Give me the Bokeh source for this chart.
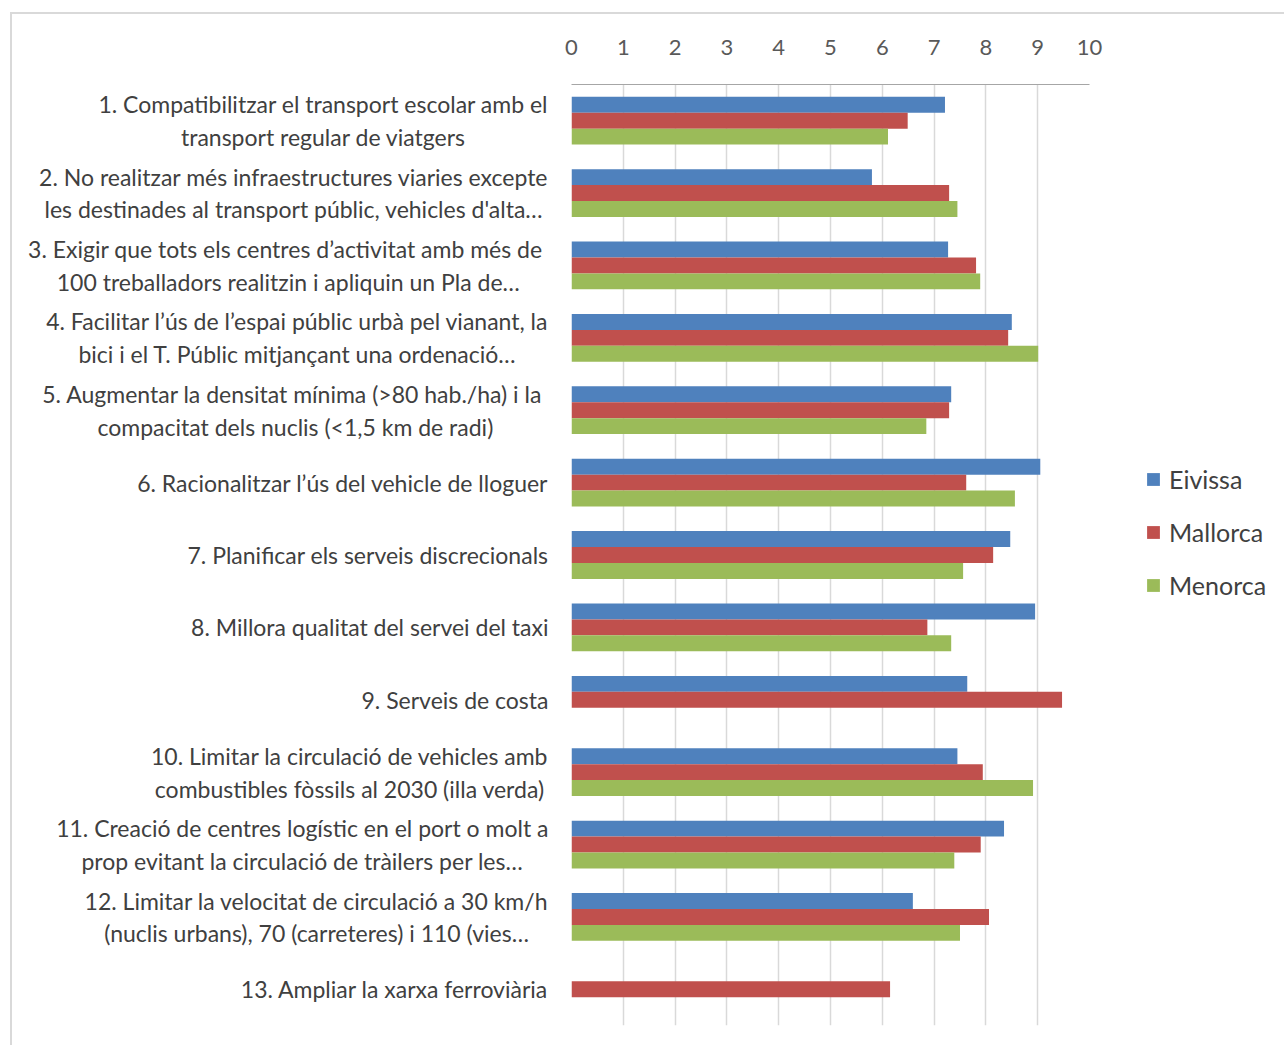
from bokeh.plotting import figure
from bokeh.layouts import row
from bokeh.models import FactorRange, Range1d, ColumnDataSource, Legend, LegendItem, FixedTicker
from bokeh.core.properties import value
from bokeh.transform import dodge
from bokeh.embed import file_html
from bokeh.resources import INLINE

NAN = float("nan")

categories = [
    "1. Compatibilitzar el transport escolar amb el\ntransport regular de viatgers",
    "2. No realitzar més infraestructures viaries excepte\nles destinades al transport públic, vehicles d'alta…",
    "3. Exigir que tots els  centres d’activitat amb més de\n100 treballadors realitzin i apliquin un Pla de…",
    "4. Facilitar l’ús de l’espai públic urbà pel vianant, la\nbici i el T. Públic mitjançant una ordenació…",
    "5. Augmentar la densitat mínima (>80  hab./ha) i la\ncompacitat dels nuclis (<1,5 km de radi)",
    "6. Racionalitzar l’ús del vehicle de lloguer",
    "7. Planificar els serveis discrecionals",
    "8. Millora qualitat del servei del taxi",
    "9. Serveis de costa",
    "10. Limitar la circulació de vehicles amb\ncombustibles fòssils al 2030 (illa verda)",
    "11. Creació de centres logístic en el port o molt a\nprop evitant la circulació de tràilers per les…",
    "12. Limitar la velocitat de circulació a 30 km/h\n(nuclis urbans), 70 (carreteres) i 110 (vies…",
    "13. Ampliar la xarxa ferroviària",
]

eivissa = [7.21, 5.80, 7.27, 8.50, 7.33, 9.05, 8.47, 8.95, 7.64, 7.45, 8.35, 6.59, NAN]
mallorca = [6.49, 7.29, 7.81, 8.43, 7.29, 7.62, 8.14, 6.87, 9.47, 7.94, 7.90, 8.06, 6.15]
menorca = [6.11, 7.45, 7.89, 9.01, 6.85, 8.56, 7.56, 7.33, NAN, 8.91, 7.39, 7.50, NAN]

series_names = ["Eivissa", "Mallorca", "Menorca"]
colors = ["#4f81bd", "#c0504d", "#9bbb59"]
x_ticks = list(range(0, 11))

FONT = "Lato"

source = ColumnDataSource(dict(cat=categories, Eivissa=eivissa, Mallorca=mallorca, Menorca=menorca))
y_range = FactorRange(*reversed(categories))

# ---- category label panel (left) ----
lf = figure(
    y_range=y_range,
    x_range=Range1d(0, 1),
    frame_width=541,
    frame_height=941,
    min_border_left=0,
    min_border_right=0,
    min_border_top=70,
    min_border_bottom=20,
    output_backend="svg",
    toolbar_location=None,
)
lf.axis.visible = False
lf.grid.grid_line_color = None
lf.outline_line_color = None
lf.text(x=1, y="cat", text="cat", source=source, anchor="center_right", text_align="center",
        x_offset=-5, text_font=value(FONT), text_font_size="23px", text_color="#404040",
        text_line_height=1.17)

# ---- bars ----
p = figure(
    y_range=y_range,
    x_range=Range1d(0, 10),
    x_axis_location="above",
    frame_width=518,
    frame_height=941,
    min_border_left=18,
    min_border_top=70,
    min_border_right=195,
    min_border_bottom=20,
    output_backend="svg",
    toolbar_location=None,
)

bar_h = 0.22
offsets = [bar_h, 0.0, -bar_h]
renderers = []
for name, col, off in zip(series_names, colors, offsets):
    r = p.hbar(y=dodge("cat", off, range=p.y_range), left=0, right=name, height=bar_h,
               source=source, fill_color=col, line_color=None)
    renderers.append(r)

p.outline_line_color = None
p.ygrid.grid_line_color = None
p.xgrid.grid_line_color = "#d9d9d9"
p.xgrid.grid_line_width = 1.5
p.xaxis.ticker = FixedTicker(ticks=x_ticks)
p.xaxis.major_tick_line_color = None
p.xaxis.minor_tick_line_color = None
p.xaxis.axis_line_color = "#a6a6a6"
p.xaxis.major_label_text_font = FONT
p.xaxis.major_label_text_font_size = "22px"
p.xaxis.major_label_text_color = "#595959"
p.xaxis.major_label_standoff = 24
p.yaxis.visible = False

legend = Legend(
    items=[LegendItem(label=n, renderers=[r]) for n, r in zip(series_names, renderers)],
    location=(56, 425),
    glyph_width=16, glyph_height=16,
    label_text_font=FONT, label_text_font_size="25px", label_text_color="#404040",
    label_standoff=8, spacing=23, padding=0, margin=0,
    border_line_color=None, background_fill_alpha=0,
)
p.add_layout(legend, "right")

layout = row(lf, p, spacing=0,
             styles={"border-left": "2px solid #d9d9d9", "border-top": "2px solid #d9d9d9",
                     "margin-left": "10px", "margin-top": "12px"})

open("out.html", "w").write(file_html(layout, INLINE))
